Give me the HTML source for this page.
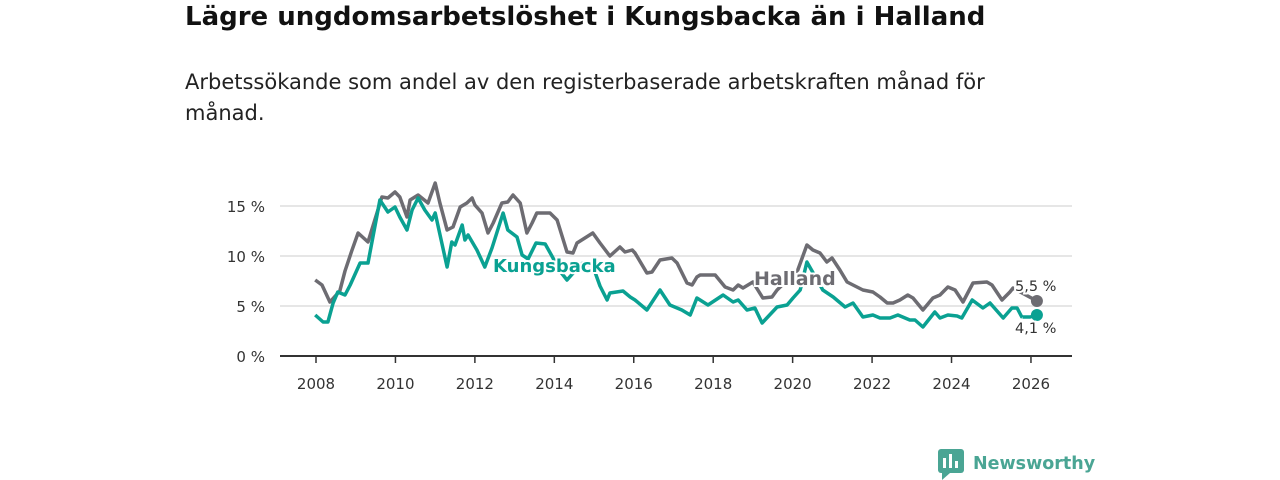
<!DOCTYPE html>
<html><head><meta charset="utf-8"><style>
body{margin:0;width:1280px;height:480px;background:#fff;font-family:"DejaVu Sans","Liberation Sans",sans-serif;overflow:hidden}
h1{position:absolute;left:185px;top:2px;margin:0;font-size:26px;font-weight:bold;color:#111;white-space:nowrap}
p{position:absolute;left:185px;top:67px;margin:0;font-size:21px;line-height:31px;color:#222;width:845px}
svg{position:absolute;left:0;top:0}
svg text{font-family:"DejaVu Sans","Liberation Sans",sans-serif}
</style></head><body>
<h1>Lägre ungdomsarbetslöshet i Kungsbacka än i Halland</h1>
<p>Arbetssökande som andel av den registerbaserade arbetskraften månad för månad.</p>
<svg id="c" width="1280" height="480"></svg>
<script>
const yTicks=[0,5,10,15];
const xTicks=[2008,2010,2012,2014,2016,2018,2020,2022,2024,2026];
const hallandYears=[2007.98,2008.15,2008.35,2008.6,2008.73,2008.9,2009.06,2009.31,2009.66,2009.81,2009.99,2010.11,2010.29,2010.37,2010.57,2010.82,2011.0,2011.12,2011.30,2011.45,2011.63,2011.80,2011.93,2012.0,2012.18,2012.33,2012.46,2012.68,2012.83,2012.96,2013.14,2013.31,2013.44,2013.56,2013.89,2014.07,2014.32,2014.47,2014.57,2014.97,2015.15,2015.40,2015.65,2015.78,2015.96,2016.03,2016.33,2016.46,2016.66,2016.96,2017.09,2017.34,2017.47,2017.59,2017.67,2018.05,2018.30,2018.50,2018.63,2018.75,2019.0,2019.25,2019.48,2019.61,2020.13,2020.36,2020.51,2020.69,2020.86,2020.99,2021.19,2021.37,2021.52,2021.77,2022.02,2022.20,2022.38,2022.53,2022.70,2022.90,2023.03,2023.28,2023.53,2023.71,2023.91,2024.09,2024.29,2024.54,2024.89,2025.02,2025.27,2025.47,2025.55,2026.15];
const hallandValues=[7.6,7.1,5.4,6.5,8.5,10.5,12.3,11.4,15.9,15.8,16.4,15.9,13.9,15.6,16.1,15.3,17.3,15.3,12.6,12.9,14.9,15.3,15.8,15.1,14.3,12.3,13.3,15.3,15.4,16.1,15.3,12.3,13.3,14.3,14.3,13.6,10.4,10.3,11.3,12.3,11.3,10.0,10.9,10.4,10.6,10.3,8.3,8.4,9.6,9.8,9.3,7.3,7.1,7.9,8.1,8.1,6.9,6.6,7.1,6.8,7.4,5.8,5.9,6.6,8.6,11.1,10.6,10.3,9.4,9.8,8.6,7.4,7.1,6.6,6.4,5.9,5.3,5.3,5.6,6.1,5.8,4.6,5.8,6.1,6.9,6.6,5.4,7.3,7.4,7.1,5.6,6.4,6.8,5.5];
const kungsYears=[2007.98,2008.18,2008.30,2008.43,2008.55,2008.73,2008.86,2009.11,2009.31,2009.61,2009.81,2009.99,2010.11,2010.29,2010.42,2010.57,2010.74,2010.92,2011.0,2011.30,2011.42,2011.50,2011.68,2011.75,2011.83,2012.05,2012.25,2012.43,2012.71,2012.83,2013.06,2013.19,2013.34,2013.54,2013.77,2013.94,2014.14,2014.32,2014.52,2014.72,2014.97,2015.15,2015.33,2015.40,2015.73,2015.91,2016.03,2016.33,2016.66,2016.91,2017.21,2017.42,2017.59,2017.87,2018.25,2018.50,2018.63,2018.85,2019.05,2019.23,2019.61,2019.86,2020.01,2020.19,2020.36,2020.56,2020.76,2021.02,2021.32,2021.52,2021.77,2022.02,2022.20,2022.45,2022.65,2022.95,2023.08,2023.28,2023.58,2023.71,2023.91,2024.14,2024.26,2024.52,2024.79,2024.97,2025.30,2025.52,2025.65,2025.77,2025.98,2026.15];
const kungsValues=[4.1,3.4,3.4,5.3,6.4,6.1,7.1,9.3,9.3,15.6,14.4,14.9,13.9,12.6,14.6,15.8,14.6,13.6,14.3,8.9,11.4,11.1,13.1,11.6,12.1,10.6,8.9,10.8,14.3,12.6,11.9,10.1,9.7,11.3,11.2,10.0,8.5,7.6,8.5,9.3,9.0,7.0,5.6,6.3,6.5,5.9,5.6,4.6,6.6,5.1,4.6,4.1,5.8,5.1,6.1,5.4,5.6,4.6,4.8,3.3,4.9,5.1,5.8,6.6,9.4,8.0,6.6,5.9,4.9,5.3,3.9,4.1,3.8,3.8,4.1,3.6,3.6,2.9,4.4,3.8,4.1,4.0,3.8,5.6,4.8,5.3,3.8,4.8,4.8,3.9,3.9,4.1];

const svg=document.getElementById('c');const NS='http://www.w3.org/2000/svg';
const X=y=>316+(y-2008)*39.72;
const Y=v=>356-v*10;
function mk(t,a,parent){const e=document.createElementNS(NS,t);for(const k in a)e.setAttribute(k,a[k]);(parent||svg).appendChild(e);return e;}
yTicks.forEach(v=>{
  const g=mk('line',{x1:280,x2:1072,y1:Y(v),y2:Y(v),stroke:v===0?'#333':'#ddd','stroke-width':v===0?2:1.5});
  
  
  const t=mk('text',{x:265,y:Y(v)+6,'text-anchor':'end','font-size':15,fill:'#333'});t.textContent=v+' %';
  
  
});
xTicks.forEach(yr=>{
  const l=mk('line',{x1:X(yr),x2:X(yr),y1:356,y2:363,stroke:'#333','stroke-width':1.5});
  
  
  const t=mk('text',{x:X(yr),y:389,'text-anchor':'middle','font-size':15,fill:'#333'});t.textContent=yr;
  
  
});
function line(xs,vs,col,name){
  const d=xs.map((x,i)=>(i?'L':'M')+X(x).toFixed(1)+' '+Y(vs[i]).toFixed(1)).join(' ');
  const p=mk('path',{d:d,fill:'none',stroke:col,'stroke-width':3.5,'stroke-linejoin':'round'});
  
  
  const n=xs.length-1;
  const c=mk('circle',{cx:X(xs[n]),cy:Y(vs[n]),r:6,fill:col});
  
  
}
line(hallandYears,hallandValues,'#6d6c72','halland');
line(kungsYears,kungsValues,'#0aa192','kungsbacka');
function lbl(x,y,txt,col,size,bold,name){
  const t=mk('text',{x:x,y:y,'font-size':size,'font-weight':bold?'bold':'normal',fill:col,stroke:'#fff','stroke-width':4,'paint-order':'stroke'});
  t.textContent=txt;
  
  
}
lbl(493,272,'Kungsbacka','#0aa192',18,true,'kungsbacka-label');
lbl(754,285,'Halland','#6d6c72',19,true,'halland-label');
lbl(1015,291,'5,5 %','#333',14.5,false,'halland-end-value');
lbl(1015,333,'4,1 %','#333',14.5,false,'kungsbacka-end-value');
</script>
<svg width="1280" height="480" style="pointer-events:none">
<rect x="938" y="449" width="26" height="24" rx="3" fill="#4aa594"/>
<path d="M942 473 L942 480 L950 473 Z" fill="#4aa594"/>
<rect x="943" y="458" width="3" height="10" fill="#fff"/><rect x="949" y="454" width="3" height="14" fill="#fff"/><rect x="955" y="461" width="3" height="7" fill="#fff"/>
<text x="973" y="469" font-size="17.5" font-weight="bold" fill="#4aa594">Newsworthy</text>
</svg>
</body></html>
